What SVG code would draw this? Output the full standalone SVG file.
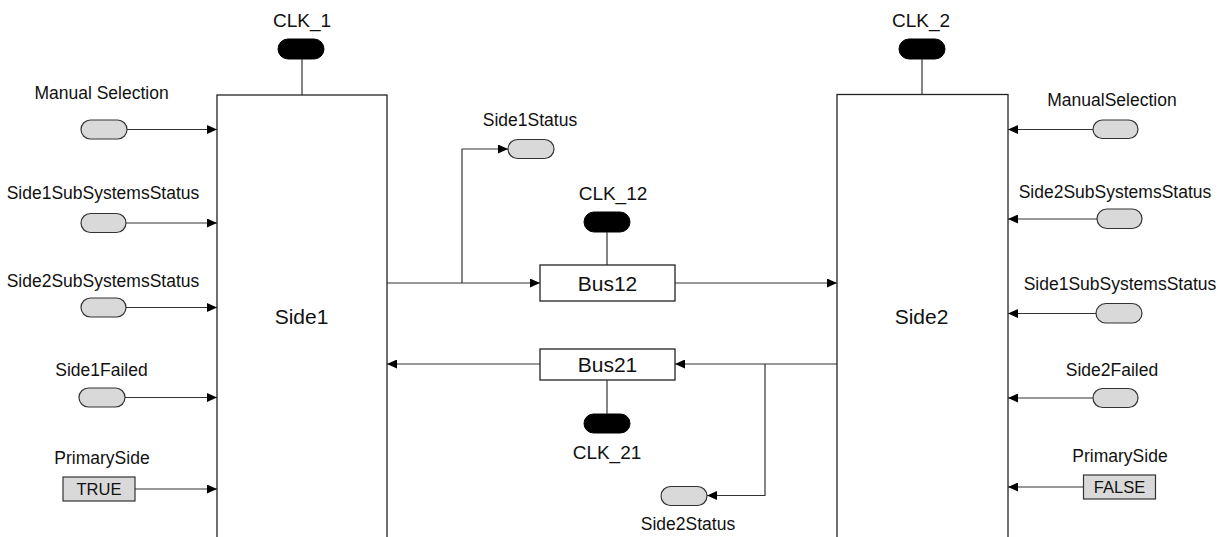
<svg xmlns="http://www.w3.org/2000/svg" width="1225" height="537" viewBox="0 0 1225 537">
<style>
text{font-family:"Liberation Sans",Arial,sans-serif;fill:#111;text-anchor:middle}
.lbl{font-size:17.5px}
.clk{font-size:19px}
.big{font-size:21px}
.val{font-size:16.5px}
.box{fill:#fff;stroke:#222;stroke-width:1.3}
.pill{fill:#d9d9d9;stroke:#333;stroke-width:1.2}
.cpill{fill:#000;stroke:#000}
.const{fill:#d9d9d9;stroke:#333;stroke-width:1.2}
.ln{fill:none;stroke:#333;stroke-width:1.2}
.ar{fill:none;stroke:#333;stroke-width:1.2;marker-end:url(#ah)}
</style>
<defs>
<marker id="ah" markerUnits="userSpaceOnUse" markerWidth="11" markerHeight="9" refX="10" refY="4.5" orient="auto">
<path d="M0,0 L10,4.5 L0,9 z" fill="#000"/>
</marker>
</defs>
<rect width="1225" height="537" fill="#fff"/>

<g id="side1">
<rect class="box" x="217" y="95" width="170" height="470"/>
<text class="big" x="301.5" y="324">Side1</text>
</g>
<g id="side2">
<rect class="box" x="837" y="94.5" width="171" height="470"/>
<text class="big" x="921.5" y="324">Side2</text>
</g>
<g id="bus12">
<rect class="box" x="540" y="265" width="135" height="36"/>
<text class="big" x="607.5" y="291">Bus12</text>
</g>
<g id="bus21">
<rect class="box" x="540" y="349" width="135" height="31"/>
<text class="big" x="607.5" y="372">Bus21</text>
</g>

<g id="clk1">
<rect class="cpill" x="278" y="39" width="46" height="20" rx="10"/>
<text class="clk" x="302" y="27">CLK_1</text>
</g>
<g id="clk2">
<rect class="cpill" x="899" y="39" width="46" height="20" rx="10"/>
<text class="clk" x="921" y="27">CLK_2</text>
</g>
<g id="clk12">
<rect class="cpill" x="584" y="212" width="46" height="20" rx="10"/>
<text class="clk" x="613" y="200">CLK_12</text>
</g>
<g id="clk21">
<rect class="cpill" x="584" y="414" width="46" height="19" rx="9.5"/>
<text class="clk" x="607" y="459">CLK_21</text>
</g>

<g id="in-manual-1">
<rect class="pill" x="81" y="120" width="46" height="19" rx="9.5"/>
<text class="lbl" x="101.5" y="99">Manual Selection</text>
</g>
<g id="in-s1sub-1">
<rect class="pill" x="81" y="213.5" width="45" height="19" rx="9.5"/>
<text class="lbl" x="103" y="199">Side1SubSystemsStatus</text>
</g>
<g id="in-s2sub-1">
<rect class="pill" x="81" y="298" width="45" height="19" rx="9.5"/>
<text class="lbl" x="103" y="287">Side2SubSystemsStatus</text>
</g>
<g id="in-s1failed">
<rect class="pill" x="79" y="388" width="46" height="19" rx="9.5"/>
<text class="lbl" x="101.5" y="376">Side1Failed</text>
</g>
<g id="in-primary-1">
<rect class="const" x="63" y="477" width="72" height="24"/>
<text class="val" x="99" y="495">TRUE</text>
<text class="lbl" x="102" y="464">PrimarySide</text>
</g>

<g id="out-side1status">
<rect class="pill" x="508" y="139.5" width="46" height="19" rx="9.5"/>
<text class="lbl" x="530" y="126">Side1Status</text>
</g>
<g id="out-side2status">
<rect class="pill" x="661" y="486.5" width="46" height="19" rx="9.5"/>
<text class="lbl" x="688" y="530">Side2Status</text>
</g>

<g id="in-manual-2">
<rect class="pill" x="1093" y="120" width="45" height="18.5" rx="9.25"/>
<text class="lbl" x="1112" y="106">ManualSelection</text>
</g>
<g id="in-s2sub-2">
<rect class="pill" x="1097" y="209" width="45" height="19.5" rx="9.75"/>
<text class="lbl" x="1115" y="198">Side2SubSystemsStatus</text>
</g>
<g id="in-s1sub-2">
<rect class="pill" x="1096" y="303.5" width="46" height="19.5" rx="9.75"/>
<text class="lbl" x="1120" y="290">Side1SubSystemsStatus</text>
</g>
<g id="in-s2failed">
<rect class="pill" x="1093" y="388.5" width="45" height="19" rx="9.5"/>
<text class="lbl" x="1112" y="376">Side2Failed</text>
</g>
<g id="in-primary-2">
<rect class="const" x="1083.5" y="475" width="72" height="24"/>
<text class="val" x="1119.5" y="493">FALSE</text>
<text class="lbl" x="1120" y="462">PrimarySide</text>
</g>

<g id="connectors">
<path class="ln" d="M302,59 V95"/>
<path class="ln" d="M922,59 V94.5"/>
<path class="ln" d="M607,232 V265"/>
<path class="ln" d="M607,380 V414"/>

<path class="ar" d="M127,129.5 H217"/>
<path class="ar" d="M126,223 H217"/>
<path class="ar" d="M126,307.5 H217"/>
<path class="ar" d="M125,397.5 H217"/>
<path class="ar" d="M135,489 H217"/>

<path class="ar" d="M387,283 H540"/>
<path class="ar" d="M462,283 V149 H508"/>
<path class="ar" d="M675,283 H837"/>
<path class="ar" d="M837,364 H675"/>
<path class="ar" d="M540,364 H387"/>
<path class="ar" d="M765,364 V495.5 H707"/>

<path class="ar" d="M1093,129.5 H1008"/>
<path class="ar" d="M1097,219 H1008"/>
<path class="ar" d="M1096,313.5 H1008"/>
<path class="ar" d="M1093,398 H1008"/>
<path class="ar" d="M1083.5,487 H1008"/>
</g>
</svg>
